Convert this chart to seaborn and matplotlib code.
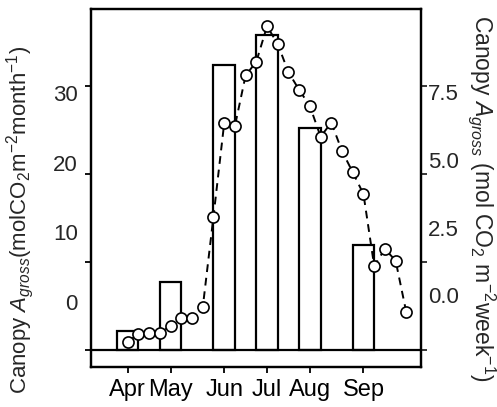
import numpy as np
import pandas as pd
import matplotlib
matplotlib.use("Agg")
import matplotlib.pyplot as plt
import seaborn as sns

# ---- data ----
month_labels = ["Apr", "May", "Jun", "Jul", "Aug", "Sep"]
month_week_pos = [1, 5, 10, 14, 18, 23]          # week index of each month tick
monthly_agross = [2.2, 7.7, 32.4, 35.8, 25.2, 11.9]  # mol CO2 m-2 month-1

weeks = list(range(1, 28))
weekly_agross = [0.24, 0.45, 0.49, 0.49, 0.68, 0.92, 0.90, 1.21, 3.79,
                 6.44, 6.36, 7.80, 8.19, 9.20, 8.69, 7.89, 7.39, 6.93,
                 6.06, 6.46, 5.65, 5.05, 4.43, 2.39, 2.87, 2.54, 1.07]  # mol CO2 m-2 week-1

left_ticks = [0, 10, 20, 30]
left_labels = ["0", "10", "20", "30"]
right_ticks = [0.0, 2.5, 5.0, 7.5]
right_labels = ["0.0", "2.5", "5.0", "7.5"]
# positions where the tick labels are printed (offset from the tick marks in the original)
left_label_pos = [5.45, 13.4, 21.25, 29.2]
right_label_pos = [1.56, 3.47, 5.40, 7.33]

df_m = pd.DataFrame({"week": month_week_pos, "agross": monthly_agross})
df_w = pd.DataFrame({"week": weeks, "agross": weekly_agross})

sns.set_style("ticks")
plt.rcParams["font.family"] = ["Liberation Sans", "DejaVu Sans"]
plt.rcParams["mathtext.fontset"] = "custom"
plt.rcParams["mathtext.rm"] = "Liberation Sans"
plt.rcParams["mathtext.it"] = "Liberation Sans:italic"
plt.rcParams["mathtext.bf"] = "Liberation Sans:bold"

fig = plt.figure(figsize=(4.97, 4.07), dpi=100)
ax = fig.add_axes([91/497, 1-367/407, 330/497, 358/407])

sns.barplot(data=df_m, x="week", y="agross", native_scale=True, width=0.5,
            color="white", edgecolor="black", linewidth=1.6, ax=ax, zorder=2)
ax.axhline(0, color="black", lw=1.6, zorder=3)

ax.set_xlim(-2.43, 28.37)
ax.set_ylim(-1.93, 38.75)
ax.set_xticks(month_week_pos, month_labels)
ax.set_yticks(left_ticks, [""] * len(left_ticks))
ax.set_yticks(left_label_pos, left_labels, minor=True)
ax.tick_params(axis="y", which="minor", length=0, pad=9.5, labelsize=16)
ax.tick_params(axis="both", which="major", length=4.5, width=1.3,
               color="black", labelcolor="black")
ax.tick_params(axis="x", pad=4, labelsize=17)
ax.set_xlabel("")
ax.set_ylabel("")

ax2 = ax.twinx()
sns.lineplot(data=df_w, x="week", y="agross", ax=ax2, color="black",
             linestyle=(0, (4, 3)), lw=1.4, marker="o", markersize=8,
             markerfacecolor="white", markeredgecolor="black",
             markeredgewidth=1.2, zorder=4)
ax2.set_ylim(-1.93/4, 38.75/4)
ax2.set_yticks(right_ticks, [""] * len(right_ticks))
ax2.set_yticks(right_label_pos, right_labels, minor=True)
ax2.tick_params(axis="y", which="minor", length=0, pad=5, labelsize=16)
ax2.tick_params(axis="y", which="major", length=4.5, width=1.3)
ax2.set_ylabel("")
ax2.set_xlabel("")

for a in (ax, ax2):
    for s in a.spines.values():
        s.set_visible(True)
        s.set_color("black")
        s.set_linewidth(1.6)

fig.text(20/497, 1-220/407, r"Canopy $A_{gross}$(molCO$_2$m$^{-2}$month$^{-1}$)",
         rotation=90, ha="center", va="center", fontsize=16)
fig.text(482/497, 1-198/407, r"Canopy $A_{gross}$ (mol CO$_2$ m$^{-2}$week$^{-1}$)",
         rotation=270, ha="center", va="center", fontsize=16.5)

fig.savefig("out.png", dpi=100)
